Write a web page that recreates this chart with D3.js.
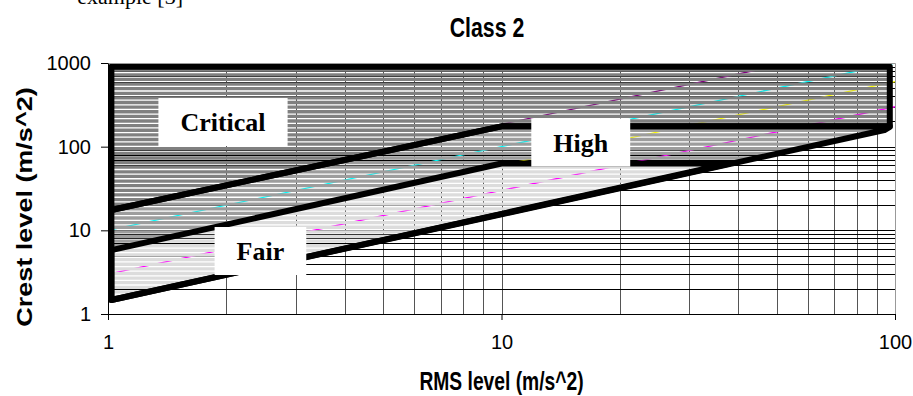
<!DOCTYPE html>
<html>
<head>
<meta charset="utf-8">
<script src="https://cdn.jsdelivr.net/npm/d3@7"></script>
<style>
  body { margin: 0; background: #fff; }
  svg { display: block; }
</style>
</head>
<body>
<svg id="chart" width="913" height="396"></svg>
<script>
// axis ticks
const rmsTicks = [1, 10, 100];
const crestTicks = [1, 10, 100, 1000];

// zone outlines (rms, crest)
const criticalRms = [1.02, 97, 97, 10, 1.02];
const criticalCrest = [900, 900, 175, 175, 17.5];
const highRms = [1.02, 10, 97, 97, 94, 1.02];
const highCrest = [17.5, 175, 175, 172, 158, 1.47];
const fairRms = [1.02, 10, 38, 1.02];
const fairCrest = [5.8, 63, 63, 1.47];

// faint series lines showing through the hatching
const seriesRms = [1, 10, 100];
const cyanCrest = [10, 100, 1000];
const yellowCrest = [6, 60, 600];
const magentaCrest = [3, 30, 300];
const purpleRms = [10, 100];
const purpleCrest = [185, 1850];

// zone labels, anchored in data space
const zoneNames = ["Critical", "High", "Fair"];
const zoneLabelRms = [1.96, 15.9, 2.44];
const zoneLabelCrest = [197, 112, 5.66];

const W = 913, H = 396;
const sans = "Arial, 'Liberation Sans', sans-serif";
const serif = "'Times New Roman', 'Liberation Serif', serif";
const svg = d3.select("#chart");
svg.append("rect").attr("width", W).attr("height", H).attr("fill", "#fff");

const x = d3.scaleLog().domain([1, 100]).range([108, 895]);
const y = d3.scaleLog().domain([1, 1000]).range([314, 63]);
const [x0, x1] = x.range();
const [y1, y0] = y.range();
const crisp = v => Math.round(v) + 0.5;

const defs = svg.append("defs");
defs.append("clipPath").attr("id", "plot")
  .append("rect").attr("x", x0).attr("y", y0).attr("width", x1 - x0).attr("height", y1 - y0);

// hatch mask: gray bands with thin see-through gaps
const mask = defs.append("mask").attr("id", "hatch")
  .attr("maskUnits", "userSpaceOnUse")
  .attr("x", 0).attr("y", 0).attr("width", W).attr("height", H);
mask.append("rect").attr("width", W).attr("height", H).attr("fill", "#fff");
mask.selectAll("line")
  .data(d3.range(72.5, y1, 4.62))
  .join("line")
  .attr("x1", 0).attr("x2", W)
  .attr("y1", d => d).attr("y2", d => d)
  .attr("stroke", "#000")
  .attr("stroke-width", 1.3);

// grid
const grid = svg.append("g").attr("clip-path", "url(#plot)");
grid.selectAll("line.vx")
  .data(x.ticks())
  .join("line")
  .attr("class", "vx")
  .attr("x1", d => crisp(x(d))).attr("x2", d => crisp(x(d)))
  .attr("y1", y0).attr("y2", y1)
  .attr("stroke", "#555");
grid.selectAll("line.hy")
  .data(y.ticks())
  .join("line")
  .attr("class", "hy")
  .attr("x1", x0).attr("x2", x1)
  .attr("y1", d => crisp(y(d))).attr("y2", d => crisp(y(d)))
  .attr("stroke", "#000");

// colour series behind the zones
const line = d3.line().x(d => x(d[0])).y(d => y(d[1]));
const series = [
  { rms: seriesRms, crest: cyanCrest, color: "#00ffff" },
  { rms: seriesRms, crest: yellowCrest, color: "#ffff00" },
  { rms: seriesRms, crest: magentaCrest, color: "#ff00ff" },
  { rms: purpleRms, crest: purpleCrest, color: "#800080" },
];
grid.selectAll("path.series")
  .data(series)
  .join("path")
  .attr("class", "series")
  .attr("d", s => line(s.rms.map((r, i) => [r, s.crest[i]])))
  .attr("fill", "none")
  .attr("stroke", s => s.color)
  .attr("stroke-width", 1.3);

// zones
const poly = (rms, crest) =>
  "M" + rms.map((r, i) => x(r) + "," + y(crest[i])).join("L") + "Z";
const zones = [
  { rms: highRms, crest: highCrest, fill: "#9d9d9d" },
  { rms: fairRms, crest: fairCrest, fill: "#dcdcdc" },
  { rms: criticalRms, crest: criticalCrest, fill: "#808080" },
];
svg.append("g").attr("mask", "url(#hatch)")
  .selectAll("path")
  .data(zones)
  .join("path")
  .attr("d", z => poly(z.rms, z.crest))
  .attr("fill", z => z.fill);

svg.append("g")
  .selectAll("path")
  .data(zones)
  .join("path")
  .attr("d", z => poly(z.rms, z.crest))
  .attr("fill", "none")
  .attr("stroke", "#000")
  .attr("stroke-width", 6)
  .attr("stroke-linejoin", "round");

// plot frame (top / right in gray)
svg.append("path")
  .attr("d", `M${x0},${crisp(y0)}H${crisp(x1)}V${y1}`)
  .attr("fill", "none")
  .attr("stroke", "#999");

// axes
const xAxis = svg.append("g")
  .attr("transform", `translate(0,${crisp(y1) - 0.5})`)
  .call(d3.axisBottom(x).tickValues(rmsTicks).tickFormat(d3.format("d"))
    .tickSize(6).tickSizeOuter(0).tickPadding(15));
const yAxis = svg.append("g")
  .attr("transform", `translate(${crisp(x0) - 0.5},0)`)
  .call(d3.axisLeft(y).tickValues(crestTicks).tickFormat(d3.format("d"))
    .tickSize(7).tickSizeOuter(0).tickPadding(10));
[xAxis, yAxis].forEach(g => {
  g.selectAll("text")
    .attr("font-family", sans)
    .attr("font-size", 20)
    .attr("fill", "#000");
  g.selectAll("line,path").attr("stroke", "#000");
});

// zone labels
const labels = svg.append("g")
  .selectAll("g")
  .data(zoneNames)
  .join("g")
  .attr("transform", (d, i) => `translate(${x(zoneLabelRms[i])},${y(zoneLabelCrest[i])})`);
labels.append("rect").attr("fill", "#fff");
labels.append("text")
  .attr("text-anchor", "middle")
  .attr("y", 9)
  .attr("font-family", serif)
  .attr("font-weight", "bold")
  .attr("font-size", 26)
  .text(d => d);
labels.each(function () {
  const g = d3.select(this);
  const w = g.select("text").node().getComputedTextLength();
  g.select("rect")
    .attr("x", -w / 2 - 22).attr("y", -24)
    .attr("width", w + 44).attr("height", 48);
});

// titles (narrow looking bold sans)
svg.append("text")
  .attr("transform", "translate(487,37) scale(0.76,1)")
  .attr("text-anchor", "middle")
  .attr("font-family", sans)
  .attr("font-weight", "bold").attr("font-size", 28)
  .text("Class 2");
svg.append("text")
  .attr("transform", `translate(${(x0 + x1) / 2},390) scale(0.77,1)`)
  .attr("text-anchor", "middle")
  .attr("font-family", sans)
  .attr("font-weight", "bold").attr("font-size", 25)
  .text("RMS level (m/s^2)");
svg.append("text")
  .attr("transform", "translate(32,207) scale(0.85,1) rotate(-90)")
  .attr("text-anchor", "middle")
  .attr("font-family", sans)
  .attr("font-weight", "bold").attr("font-size", 27)
  .text("Crest level (m/s^2)");

// remnant of the page text cut off above the chart
svg.append("text")
  .attr("x", 183).attr("y", 4)
  .attr("text-anchor", "end")
  .attr("font-family", serif)
  .attr("font-size", 22)
  .text("example [3]");
</script>
</body>
</html>
